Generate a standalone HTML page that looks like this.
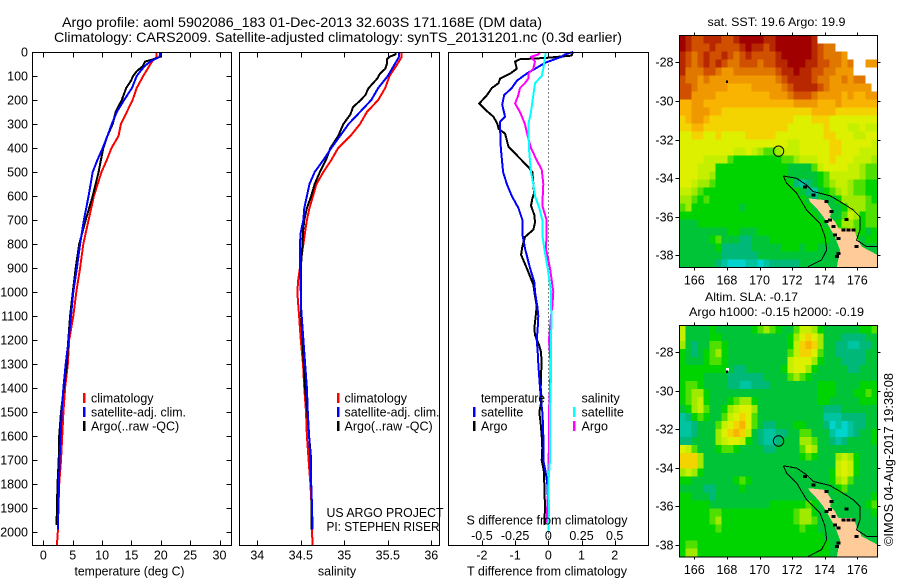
<!DOCTYPE html>
<html lang="en">
<head>
<meta charset="utf-8">
<title>Argo profile 5902086_183</title>
<style>
html,body{margin:0;padding:0;background:#fff;}
svg{display:block;font-family:"Liberation Sans",sans-serif;fill:#000;}
text{font-size:12.5px;}
.t{font-size:14px;}
.m{font-size:12px;}
</style>
</head>
<body>
<svg id="chart" width="900" height="580" viewBox="0 0 900 580" xmlns="http://www.w3.org/2000/svg">
<rect x="0" y="0" width="900" height="580" fill="#fff"/>
<text class="t" x="62" y="27" textLength="480" lengthAdjust="spacingAndGlyphs">Argo profile: aoml 5902086_183 01-Dec-2013 32.603S 171.168E (DM data)</text>
<text class="t" x="54" y="42" textLength="568" lengthAdjust="spacingAndGlyphs">Climatology: CARS2009. Satellite-adjusted climatology: synTS_20131201.nc (0.3d earlier)</text>

<g id="p1"></g>
<g id="p2"></g>
<g id="p3"></g>
<g id="m1"></g>
<g id="m2"></g>

<text x="129.5" y="575.5" text-anchor="middle" textLength="110" lengthAdjust="spacingAndGlyphs">temperature (deg C)</text>
<text x="337" y="575.5" text-anchor="middle">salinity</text>
<text x="547" y="575.5" text-anchor="middle">T difference from climatology</text>
<text x="547" y="524.5" text-anchor="middle">S difference from climatology</text>

<g>
<rect x="83" y="393" width="2.5" height="10" fill="#f00"/>
<rect x="83" y="407" width="2.5" height="10" fill="#00f"/>
<rect x="83" y="421" width="2.5" height="10" fill="#000"/>
<text x="91" y="402.5">climatology</text>
<text x="91" y="416.5" textLength="95" lengthAdjust="spacingAndGlyphs">satellite-adj. clim.</text>
<text x="91" y="430.5">Argo(..raw -QC)</text>
</g>
<g>
<rect x="337" y="393" width="2.5" height="10" fill="#f00"/>
<rect x="337" y="407" width="2.5" height="10" fill="#00f"/>
<rect x="337" y="421" width="2.5" height="10" fill="#000"/>
<text x="344.5" y="402.5">climatology</text>
<text x="344.5" y="416.5" textLength="95" lengthAdjust="spacingAndGlyphs">satellite-adj. clim.</text>
<text x="344.5" y="430.5">Argo(..raw -QC)</text>
</g>
<text x="326.5" y="517" textLength="117" lengthAdjust="spacingAndGlyphs">US ARGO PROJECT</text>
<text x="326.5" y="531" textLength="113" lengthAdjust="spacingAndGlyphs">PI: STEPHEN RISER</text>
<g>
<text x="481" y="402.5" textLength="64" lengthAdjust="spacingAndGlyphs">temperature</text>
<rect x="473" y="407" width="2.5" height="10" fill="#00f"/>
<text x="481" y="416.5">satellite</text>
<rect x="473" y="421" width="2.5" height="10" fill="#000"/>
<text x="481" y="430.5">Argo</text>
<text x="581.5" y="402.5">salinity</text>
<rect x="573" y="407" width="2.5" height="10" fill="#0ff"/>
<text x="581.5" y="416.5">satellite</text>
<rect x="573" y="421" width="2.5" height="10" fill="#f0f"/>
<text x="581.5" y="430.5">Argo</text>
</g>

<text class="m" x="776.5" y="26" text-anchor="middle" textLength="138" lengthAdjust="spacingAndGlyphs">sat. SST: 19.6 Argo: 19.9</text>
<text class="m" x="705" y="301" textLength="93" lengthAdjust="spacingAndGlyphs">Altim. SLA: -0.17</text>
<text class="m" x="689" y="316" textLength="175" lengthAdjust="spacingAndGlyphs">Argo h1000: -0.15 h2000: -0.19</text>
<text transform="translate(893,546) rotate(-90)" textLength="173" lengthAdjust="spacingAndGlyphs">©IMOS 04-Aug-2017 19:38:08</text>
</svg>
<script>
// ---- axis labels ----
const pressureTicks = [0,100,200,300,400,500,600,700,800,900,1000,1100,1200,1300,1400,1500,1600,1700,1800,1900,2000];
const tempTicks = [0,5,10,15,20,25,30];
const salTicks = [34,34.5,35,35.5,36];
const tDiffTicks = [-2,-1,0,1,2];
const sDiffTicks = [-0.5,-0.25,0,0.25,0.5];
const sDiffTickLabels = ["-0.5","-0.25","0","0.25","0.5"];
const lonTicks = [166,168,170,172,174,176];
const latTicks = [-28,-30,-32,-34,-36,-38];

// ---- temperature panel ----
const tempClimP = [0,20,40,100,150,200,250,300,350,400,450,500,600,700,800,900,1000,1100,1200,1300,1400,1500,1600,1700,1800,1900,2000,2054];
const tempClim = [19.3,19.3,18.5,17.0,15.9,15.2,14.2,13.2,12.8,11.6,10.8,9.9,8.6,7.7,6.8,6.25,5.6,5.1,4.4,4.15,3.7,3.4,3.2,3.0,2.7,2.55,2.45,2.3];
const tempArgoP = [0,20,30,40,60,80,100,120,150,200,250,300,350,400,450,500,600,700,800,900,1000,1100,1200,1300,1400,1500,1600,1700,1800,1900,1970];
const tempArgo = [19.9,19.9,18.75,17.3,16.9,15.9,15.3,14.9,14.1,13.35,12.3,11.8,10.9,10.2,9.8,9.4,8.4,7.2,6.1,5.5,5.0,4.55,4.25,4.0,3.5,3.0,2.7,2.6,2.4,2.3,2.25];
const tempSatP = [0,20,40,60,80,100,150,200,250,300,350,400,450,500,600,700,800,900,1000,1100,1200,1300,1400,1500,1600,1700,1800,1900,1990];
const tempSat = [19.9,19.8,18.2,17.2,16.5,15.9,15.1,13.75,12.5,11.65,10.9,10.1,9.2,8.4,7.7,6.9,6.25,5.7,5.1,4.7,4.3,3.8,3.4,3.1,2.95,2.75,2.65,2.55,2.45];

// ---- salinity panel ----
const salClimP = [0,20,50,100,150,200,250,300,350,400,450,500,550,600,650,700,750,800,850,900,950,1000,1050,1100,1200,1300,1400,1500,1600,1700,1800,1900,2000,2054];
const salClim = [35.66,35.66,35.61,35.52,35.47,35.39,35.26,35.18,35.07,34.93,34.85,34.76,34.68,34.64,34.6,34.57,34.55,34.53,34.51,34.49,34.47,34.46,34.47,34.48,34.5,34.525,34.54,34.56,34.57,34.59,34.61,34.625,34.63,34.635];
const salSatP = [0,20,50,100,150,200,250,300,350,400,450,500,550,600,650,700,750,800,900,1000,1050,1100,1200,1300,1400,1500,1600,1700,1800,1900,1990];
const salSat = [35.63,35.63,35.58,35.5,35.39,35.31,35.18,35.05,34.95,34.85,34.76,34.66,34.6,34.57,34.54,34.53,34.5,34.49,34.49,34.5,34.5,34.51,34.53,34.55,34.57,34.58,34.595,34.61,34.62,34.63,34.635];
const salArgoP = [0,10,20,30,50,70,90,110,130,150,180,200,230,260,300,350,400,450,500,550,600,650,700,750,800,900,1000,1100,1200,1300,1400,1500,1600,1700,1800,1900,1990];
const salArgo = [35.59,35.59,35.52,35.49,35.49,35.47,35.41,35.38,35.33,35.28,35.24,35.19,35.1,35.07,34.99,34.93,34.84,34.79,34.72,34.66,34.62,34.57,34.54,34.525,34.52,34.5,34.5,34.505,34.52,34.535,34.55,34.575,34.595,34.62,34.62,34.625,34.625];

// ---- difference panel ----
const dTArgoP = [0,15,25,30,40,70,90,110,130,150,180,215,240,270,300,320,340,395,430,480,500,550,590,610,640,680,710,740,770,810,845,900,970,1000,1060,1100,1150,1180,1220,1250,1300,1340,1400,1450,1500,1550,1600,1650,1700,1750,1800,1900,1970];
const dTArgo = [0.75,0.7,-0.1,-0.85,-1.0,-0.95,-1.15,-1.45,-1.5,-1.7,-1.85,-2.08,-1.9,-1.65,-1.53,-1.5,-1.3,-1.2,-0.95,-0.6,-0.48,-0.45,-0.43,-0.48,-0.52,-0.42,-0.4,-0.45,-0.7,-0.78,-0.82,-0.65,-0.45,-0.42,-0.35,-0.38,-0.42,-0.4,-0.28,-0.22,-0.2,-0.22,-0.23,-0.2,-0.27,-0.23,-0.2,-0.18,-0.2,-0.13,-0.12,-0.1,-0.12];
const dTSatP = [0,10,20,30,45,70,90,120,150,180,220,270,290,330,400,500,550,600,650,700,760,820,900,960,1000,1060,1100,1150,1200,1250,1300,1400,1450,1500,1550,1600,1700,1750,1800,1900];
const dTSat = [0.75,0.5,0.4,0.2,-0.1,-0.4,-0.65,-0.95,-1.1,-1.33,-1.39,-1.3,-1.45,-1.45,-1.43,-1.36,-1.25,-1.1,-0.9,-0.78,-0.78,-0.7,-0.55,-0.42,-0.4,-0.33,-0.3,-0.32,-0.35,-0.32,-0.3,-0.25,-0.22,-0.18,-0.16,-0.15,-0.15,-0.08,-0.03,0];
const dSArgoP = [0,10,20,40,70,90,110,130,150,180,215,250,300,350,400,450,490,550,640,700,760,820,900,1000,1060,1100,1200,1300,1400,1500,1600,1800,1900,1960];
const dSArgo = [-0.063,-0.075,-0.13,-0.1,-0.113,-0.15,-0.15,-0.176,-0.213,-0.226,-0.25,-0.213,-0.176,-0.156,-0.13,-0.088,-0.05,-0.038,-0.045,-0.013,-0.013,-0.018,0.013,0.038,0.03,0.02,0.005,0.018,0.013,0.005,0.005,0,-0.008,-0.01];
const dSSatP = [0,20,40,70,100,130,180,250,300,400,500,550,600,650,700,760,820,900,1000,1060,1100,1200,1300,1400,1500,1600,1700,1800,1900,2000];
const dSSat = [-0.018,-0.025,-0.03,-0.038,-0.05,-0.1,-0.113,-0.13,-0.15,-0.146,-0.13,-0.113,-0.1,-0.068,-0.045,-0.045,-0.03,-0.005,0.02,0.02,0.025,0.02,0.02,0.018,0.013,0.013,0.013,0,0.005,0];

// ---- map colour levels (0 cyan ... 15 dark red, null = no data) ----
const mapPalette = ["#00d4cc","#00c4a0","#00b878","#00c438","#00d400","#50e000","#a0ea00","#c4f000","#dcf000","#f4d400","#f8b400","#f09800","#e07800","#d05000","#b82800","#a00000"];
const n = null;
const sstLevels = [
[15,14,13,13,14,14,14,13,13,14,15,15,15,15,14,14,15,15,15,15,15,15,14,n,n,n,n,n,n,n,n,n,n],
[15,14,13,13,13,14,13,13,13,13,14,15,14,14,13,14,15,15,15,15,15,15,14,13,12,12,n,n,n,n,n,n,n],
[14,13,12,13,14,13,13,14,13,12,13,14,13,13,13,13,14,15,15,15,15,15,14,13,12,12,12,11,n,n,n,n,n],
[14,13,12,13,14,13,14,13,12,12,13,13,13,12,13,13,14,14,15,15,15,14,14,13,13,12,12,11,12,n,n,11,11],
[14,12,12,12,13,13,12,11,11,12,12,12,12,12,12,12,13,14,14,15,14,14,13,13,12,12,11,11,11,n,n,n,n],
[13,12,12,11,12,11,11,11,11,11,11,11,11,11,11,11,12,13,14,14,14,14,13,12,12,11,11,12,11,12,12,n,n],
[13,13,12,11,11,11,11,11,10,10,10,10,11,11,11,11,11,12,13,14,14,14,14,13,12,11,11,11,11,11,11,11,n],
[13,13,11,11,11,11,10,10,10,10,10,10,10,10,10,11,11,11,12,13,13,13,12,11,11,11,11,10,11,10,10,11,11],
[10,10,11,11,10,10,10,10,10,10,10,10,10,10,10,10,10,10,10,11,11,11,11,10,10,10,11,10,10,10,10,10,10],
[10,10,11,11,11,10,10,9,9,9,9,9,9,9,9,9,9,9,9,9,9,9,10,10,10,10,9,9,9,9,9,9,9],
[9,10,11,11,10,9,9,9,9,9,9,9,9,9,9,9,9,9,9,8,8,8,9,9,9,8,8,8,8,8,8,8,8],
[9,9,10,10,9,9,9,9,9,9,9,9,9,9,9,9,9,9,8,8,8,8,8,8,9,8,8,8,7,7,8,7,7],
[8,8,9,9,8,8,9,8,8,8,8,9,9,9,9,9,8,8,8,8,8,8,8,8,9,9,8,8,8,7,7,8,8],
[8,8,8,8,8,8,8,8,8,8,8,8,8,8,8,8,8,8,7,7,8,8,8,8,8,9,9,8,8,8,8,8,7],
[8,8,8,8,8,8,8,8,8,7,7,8,7,6,5,5,6,7,7,7,8,8,8,8,8,9,9,8,8,8,7,7,7],
[8,8,8,8,7,7,7,7,5,4,4,4,4,4,4,4,4,5,5,6,7,7,7,8,8,9,8,8,8,7,7,7,6],
[8,8,8,7,7,7,4,4,4,4,4,4,4,4,4,4,4,4,3,3,3,3,5,7,8,8,8,8,7,7,6,5,5],
[8,8,8,7,7,6,4,4,4,4,4,4,4,4,4,4,4,4,3,3,3,3,3,4,5,7,7,7,7,7,6,5,5],
[8,8,7,6,6,5,4,4,4,4,4,4,4,4,4,4,4,4,4,2,1,2,3,4,5,6,7,7,6,5,5,4,4],
[7,7,6,5,4,4,4,4,4,4,4,4,4,4,4,4,4,4,4,4,3,2,1,3,4,5,6,7,6,5,5,4,4],
[6,6,5,4,5,4,4,4,4,4,4,4,4,4,4,4,4,4,4,4,4,3,2,3,3,3,4,6,6,6,6,5,4],
[5,6,4,4,4,4,4,4,4,4,3,4,4,4,4,4,4,4,4,4,4,4,3,3,3,3,3,4,6,6,6,5,5],
[4,4,4,4,4,4,4,4,4,4,4,4,4,4,4,4,4,4,4,4,4,4,4,3,3,3,3,5,7,6,4,5,5],
[3,3,3,4,4,4,4,4,4,4,4,4,4,4,4,4,4,4,4,4,4,4,4,4,3,3,4,6,6,5,4,5,5],
[3,3,3,3,3,3,3,3,4,4,3,3,3,4,4,4,4,4,4,4,4,4,4,4,4,3,5,5,6,5,4,3,4],
[3,3,3,3,3,4,5,3,3,3,2,2,3,3,3,4,4,4,4,4,4,4,4,4,4,3,3,3,3,4,3,4,4],
[3,3,3,3,3,3,4,2,2,2,2,2,3,3,3,3,3,4,4,4,3,4,4,3,3,3,3,3,3,3,3,3,3],
[3,3,3,3,3,3,3,2,2,2,2,2,2,3,3,3,3,3,3,3,3,3,3,3,3,3,3,3,3,3,3,3,3],
[3,3,3,3,3,3,2,1,0,0,0,1,1,0,1,2,2,2,2,2,3,3,3,3,3,3,3,3,3,3,3,3,3]
];
const slaLevels = [
[7,3,3,3,3,4,3,3,3,3,3,3,4,5,6,5,4,3,3,5,7,7,6,4,3,3,3,3,3,3,4,4,5],
[7,3,3,3,3,4,4,3,3,3,3,3,3,3,3,3,3,3,4,6,8,9,8,6,3,3,3,2,2,2,2,3,3],
[6,3,2,3,3,5,5,4,3,3,3,3,3,3,3,3,3,3,4,7,9,10,9,6,3,3,2,2,1,1,2,2,3],
[4,3,2,3,4,5,6,4,3,3,3,3,3,3,3,3,3,3,5,7,9,9,8,5,3,3,2,2,2,2,2,3,3],
[4,3,3,3,4,5,5,4,3,3,3,3,3,3,3,3,3,3,7,8,8,8,6,4,3,3,3,2,2,2,2,3,3],
[4,4,4,4,4,4,4,4,3,2,2,3,3,3,3,3,3,4,7,8,8,6,4,3,3,3,3,3,2,2,3,3,3],
[4,4,4,4,3,3,3,3,2,2,2,2,2,2,3,3,3,3,5,6,5,4,3,3,3,3,3,3,3,3,3,3,3],
[4,5,5,4,3,3,3,3,2,2,1,1,2,2,2,3,3,3,3,3,3,3,3,4,4,4,3,3,3,3,4,4,4],
[4,5,6,6,4,3,3,3,3,3,3,3,3,3,3,3,3,3,3,3,3,3,3,4,4,4,3,3,3,4,4,5,4],
[4,5,6,7,4,3,3,3,4,5,6,6,4,3,3,3,3,3,3,3,3,3,3,4,4,3,3,3,3,3,4,4,4],
[3,4,6,7,5,3,3,4,6,7,8,8,6,3,3,3,3,3,3,3,3,3,3,3,2,2,2,3,3,3,3,3,3],
[1,2,4,5,4,3,3,5,7,8,9,8,5,3,3,3,3,3,3,3,3,3,3,3,1,1,1,2,2,2,2,3,3],
[1,1,2,3,3,3,5,7,8,9,10,8,5,3,2,2,3,3,3,4,4,3,3,3,2,0,1,0,1,2,2,3,3],
[1,1,2,3,3,3,6,8,9,10,9,7,3,2,1,1,2,2,3,3,5,5,3,3,3,1,0,0,1,2,3,3,4],
[2,2,3,3,3,3,6,7,8,8,7,4,3,2,1,1,2,3,3,3,6,6,5,3,3,2,1,2,3,3,3,3,4],
[8,7,5,3,3,3,4,5,5,4,3,3,3,3,2,2,3,3,3,3,5,7,6,3,3,3,3,3,3,3,3,3,3],
[9,9,9,6,3,3,3,3,3,3,3,3,3,3,3,3,3,3,3,3,4,5,4,3,3,3,6,7,6,4,3,3,3],
[9,9,9,6,3,3,3,3,3,3,3,3,3,3,3,3,3,3,3,3,3,3,3,3,3,3,7,8,7,4,3,3,3],
[6,7,6,4,3,3,3,3,3,3,3,3,3,3,3,3,3,3,3,3,3,3,3,3,3,4,7,8,7,4,3,3,3],
[4,4,3,3,3,3,3,3,3,4,5,4,3,3,3,3,3,3,3,3,3,3,3,3,3,4,6,7,5,3,3,3,3],
[3,3,3,3,2,2,3,3,3,3,4,3,3,3,3,3,3,3,3,3,3,3,3,3,3,3,4,5,3,3,3,3,3],
[4,4,3,3,3,2,3,3,3,3,3,3,3,3,3,3,3,3,3,3,3,3,3,3,3,3,3,3,3,3,3,3,4],
[4,4,4,4,4,3,3,3,3,3,3,3,3,3,3,4,4,4,4,4,4,5,4,3,3,3,3,3,3,3,3,4,5],
[4,4,4,4,4,5,5,4,4,4,4,4,4,4,4,4,4,4,4,5,6,6,4,3,3,3,3,3,3,3,3,3,4],
[4,4,4,4,4,5,6,4,4,4,4,4,4,4,4,4,4,4,4,5,6,6,5,3,3,3,3,3,3,3,3,3,3],
[4,4,4,4,4,4,5,4,4,4,4,4,4,4,4,4,4,4,4,4,5,4,4,3,3,3,3,3,3,3,3,3,3],
[4,4,4,4,4,4,4,4,4,4,4,4,4,4,4,4,4,4,4,4,4,4,4,4,3,3,3,3,3,3,3,3,3],
[4,5,5,4,4,4,4,4,4,4,4,4,4,4,4,4,4,4,4,4,4,4,4,4,4,3,3,3,3,3,3,3,3],
[4,6,6,4,4,4,4,4,4,4,4,4,4,4,4,4,4,4,4,4,4,4,4,4,4,3,3,3,3,3,3,3,3]
];

// ---- geography, lon / lat ----
const landLon = [173.0,174.02,174.43,174.33,174.63,174.84,175.76,175.96,176.27,177.25,177.25,174.74,174.94,174.63,173.92,173.51,173.1];
const landLat = [-35.05,-35.14,-35.65,-36.0,-36.26,-36.6,-36.6,-37.04,-37.55,-37.99,-38.62,-38.62,-37.73,-37.04,-36.0,-35.57,-35.22];
const contourALon = [171.46,172.28,172.89,173.30,174.32,174.94,175.75,176.16,176.16,175.96,176.57,177.23];
const contourALat = [-33.89,-34.01,-34.36,-34.70,-34.91,-35.22,-35.65,-36.0,-36.69,-37.21,-37.55,-37.55];
const contourBLon = [171.46,171.66,172.28,172.89,173.71,174.02,174.12,173.81,172.99];
const contourBLat = [-33.89,-34.27,-34.79,-35.65,-36.34,-37.03,-37.72,-38.24,-38.59];
const shoreLon = [172.79,173.30,174.12,174.43,174.33,174.12,174.53,174.63,174.84,175.15,175.45,175.76,175.96,174.84,174.74,175.35];
const shoreLat = [-34.45,-34.88,-35.22,-35.74,-36.17,-36.26,-36.52,-36.95,-37.12,-36.69,-36.69,-36.69,-37.55,-37.90,-38.07,-36.14];
const floatLon = [171.168];
const floatLat = [-32.603];

// ---- scales ----
const SVGNS = "http://www.w3.org/2000/svg";
const PANEL_TOP = 52.5, PANEL_BOTTOM = 545.5;
function yP(p){ return 52 + 0.24 * p; }
function xTemp(v){ return 43.4 + 5.87 * v; }
function xSal(v){ return 257.3 + 87 * (v - 34); }
function xDT(v){ return 548.3 + 33.2 * v; }
function xDS(v){ return 548.3 + 132.8 * v; }
function xLon(v){ return 694.3 + 16.3 * (v - 166); }
function yLat1(v){ return 62.3 + 19.3 * (-28 - v); }
function yLat2(v){ return 352.3 + 19.27 * (-28 - v); }

function mk(parent, tag, attrs, txt){
  const el = document.createElementNS(SVGNS, tag);
  for (const k in attrs) el.setAttribute(k, attrs[k]);
  if (txt !== undefined) el.textContent = txt;
  parent.appendChild(el);
  return el;
}

function drawFrame(g, x0, x1, y0, y1, name){
  const r = mk(g, 'rect', {x:x0, y:y0, width:x1-x0, height:y1-y0, fill:'none', stroke:'#000', 'stroke-width':1, 'shape-rendering':'crispEdges'});
  
  
}

function drawXTicks(g, ticks, xFn){
  ticks.forEach(function(v){
    const x = Math.round(xFn(v)) + 0.5;
    const a = mk(g, 'line', {x1:x, x2:x, y1:PANEL_TOP, y2:PANEL_TOP+5, stroke:'#000', 'shape-rendering':'crispEdges'});
    
    
    const b = mk(g, 'line', {x1:x, x2:x, y1:PANEL_BOTTOM-5, y2:PANEL_BOTTOM, stroke:'#000', 'shape-rendering':'crispEdges'});
    
    
  });
}

function drawXLabels(g, ticks, labels, xFn, y){
  ticks.forEach(function(v, i){
    const t = mk(g, 'text', {x:xFn(v), y:y, 'text-anchor':'middle'}, labels[i]);
    
    
  });
}

function drawProfile(g, pressures, values, xFn, color, name, width){
  const pts = values.map(function(v, i){ return xFn(v).toFixed(1) + ',' + yP(pressures[i]).toFixed(1); }).join(' ');
  const l = mk(g, 'polyline', {points:pts, fill:'none', stroke:color, 'stroke-width':width, 'stroke-linejoin':'round', 'shape-rendering':'crispEdges'});
  
  
}

// ---- temperature panel ----
const p1 = document.getElementById('p1');
drawProfile(p1, tempClimP, tempClim, xTemp, '#f00', 'temperature-climatology-line', 2);
drawProfile(p1, tempArgoP, tempArgo, xTemp, '#000', 'temperature-argo-line', 2);
drawProfile(p1, tempSatP, tempSat, xTemp, '#00f', 'temperature-satellite-line', 2);
drawFrame(p1, 32.5, 231.5, PANEL_TOP, PANEL_BOTTOM, 'temperature-plot-frame');
drawXTicks(p1, tempTicks, xTemp);
drawXLabels(p1, tempTicks, tempTicks.map(String), xTemp, 559.5);
pressureTicks.forEach(function(v){
  const y = Math.round(yP(v)) + 0.5;
  const a = mk(p1, 'line', {x1:32.5, x2:37.5, y1:y, y2:y, stroke:'#000', 'shape-rendering':'crispEdges'});
  
  
  const b = mk(p1, 'line', {x1:226.5, x2:231.5, y1:y, y2:y, stroke:'#000', 'shape-rendering':'crispEdges'});
  
  
  const t = mk(p1, 'text', {x:28, y:y+4, 'text-anchor':'end'}, String(v));
  
  
});

// ---- salinity panel ----
const p2 = document.getElementById('p2');
drawProfile(p2, salClimP, salClim, xSal, '#f00', 'salinity-climatology-line', 2);
drawProfile(p2, salArgoP, salArgo, xSal, '#000', 'salinity-argo-line', 2);
drawProfile(p2, salSatP, salSat, xSal, '#00f', 'salinity-satellite-line', 2);
drawFrame(p2, 239.5, 439.5, PANEL_TOP, PANEL_BOTTOM, 'salinity-plot-frame');
drawXTicks(p2, salTicks, xSal);
drawXLabels(p2, salTicks, salTicks.map(String), xSal, 559.5);

// ---- difference panel ----
const p3 = document.getElementById('p3');
const zeroLine = mk(p3, 'line', {x1:xDT(0), x2:xDT(0), y1:PANEL_TOP, y2:PANEL_BOTTOM, stroke:'#000', 'stroke-dasharray':'1 3', 'shape-rendering':'crispEdges'});


drawProfile(p3, dTArgoP, dTArgo, xDT, '#000', 't-difference-argo-line', 2);
drawProfile(p3, dTSatP, dTSat, xDT, '#00f', 't-difference-satellite-line', 2);
drawProfile(p3, dSArgoP, dSArgo, xDS, '#f0f', 's-difference-argo-line', 2);
drawProfile(p3, dSSatP, dSSat, xDS, '#0ff', 's-difference-satellite-line', 2);
drawFrame(p3, 448.5, 648.5, PANEL_TOP, PANEL_BOTTOM, 'difference-plot-frame');
drawXTicks(p3, tDiffTicks, xDT);
drawXLabels(p3, tDiffTicks, tDiffTicks.map(String), xDT, 559.5);
drawXLabels(p3, sDiffTicks, sDiffTickLabels, xDS, 540);

// ---- maps ----
function drawMap(g, levels, yLat, top, bottom, tickLabelY, name){
  const lonStep = 6 / 16.3;
  const lonStart = 166 + (679.3 - 694.3) / 16.3;
  const rows = levels.length;
  const latStep = (bottom - top) / rows / 19.3;
  const latStart = yLat === yLat1 ? -28 - (top - 62.3) / 19.3 : -28 - (top - 352.3) / 19.27;
  levels.forEach(function(row, r){
    row.forEach(function(v, c){
      if (v === null) return;
      const x0 = xLon(lonStart + c * lonStep);
      const x1 = xLon(lonStart + (c + 1) * lonStep);
      const y0 = yLat(latStart - r * latStep);
      const y1 = yLat(latStart - (r + 1) * latStep);
      const cell = mk(g, 'rect', {x:x0.toFixed(2), y:y0.toFixed(2), width:(x1-x0).toFixed(2), height:(y1-y0+0.3).toFixed(2), fill:mapPalette[v], 'shape-rendering':'crispEdges'});
      
      
    });
  });
  const land = mk(g, 'polygon', {points:landLon.map(function(v,i){ return xLon(v).toFixed(1)+','+yLat(landLat[i]).toFixed(1); }).join(' '), fill:'#ffcc99', 'shape-rendering':'crispEdges'});
  
  
  shoreLon.forEach(function(v, i){
    const d = mk(g, 'rect', {x:(xLon(v)-2).toFixed(1), y:(yLat(shoreLat[i])-1.5).toFixed(1), width:4, height:3, fill:'#000', 'shape-rendering':'crispEdges'});
    
    
  });
  [[contourALon, contourALat, 'contour-east'], [contourBLon, contourBLat, 'contour-west']].forEach(function(c){
    const l = mk(g, 'polyline', {points:c[0].map(function(v,i){ return xLon(v).toFixed(1)+','+yLat(c[1][i]).toFixed(1); }).join(' '), fill:'none', stroke:'#000', 'stroke-width':1, 'shape-rendering':'crispEdges'});
    
    
  });
  if (yLat === yLat2) {
    const hole = mk(g, 'rect', {x:xLon(168)-1, y:yLat(-29)-3.5, width:3, height:3, fill:'#fff', 'shape-rendering':'crispEdges'});
    
    
  }
  const marker = mk(g, 'rect', {x:xLon(168)-1, y:yLat(-29)-1, width:2, height:2.5, fill:'#000', 'shape-rendering':'crispEdges'});
  
  
  floatLon.forEach(function(v, i){
    const ring = mk(g, 'circle', {cx:xLon(v), cy:yLat(floatLat[i]), r:5.2, fill:'none', stroke:'#000', 'stroke-width':1});
    
    
  });
  const left = 679.5, right = 877.5;
  drawFrame(g, left, right, top + 0.2, bottom + 0.2, name + '-frame');
  lonTicks.forEach(function(v){
    const x = Math.round(xLon(v)) + 0.5;
    const a = mk(g, 'line', {x1:x, x2:x, y1:top-2.8, y2:top, stroke:'#000', 'shape-rendering':'crispEdges'});
    
    
    const b = mk(g, 'line', {x1:x, x2:x, y1:bottom, y2:bottom+3, stroke:'#000', 'shape-rendering':'crispEdges'});
    
    
    const t = mk(g, 'text', {x:xLon(v), y:tickLabelY, 'text-anchor':'middle'}, String(v));
    
    
  });
  latTicks.forEach(function(v){
    const y = Math.round(yLat(v)) + 0.5;
    const a = mk(g, 'line', {x1:left-4, x2:left, y1:y, y2:y, stroke:'#000', 'shape-rendering':'crispEdges'});
    
    
    const b = mk(g, 'line', {x1:right, x2:right+3, y1:y, y2:y, stroke:'#000', 'shape-rendering':'crispEdges'});
    
    
    const t = mk(g, 'text', {x:left-6, y:y+4, 'text-anchor':'end'}, String(v));
    
    
  });
}
drawMap(document.getElementById('m1'), sstLevels, yLat1, 35.3, 267.3, 284.5, 'sst-map');
drawMap(document.getElementById('m2'), slaLevels, yLat2, 325.3, 556.7, 574, 'sla-map');
</script>
</body>
</html>
